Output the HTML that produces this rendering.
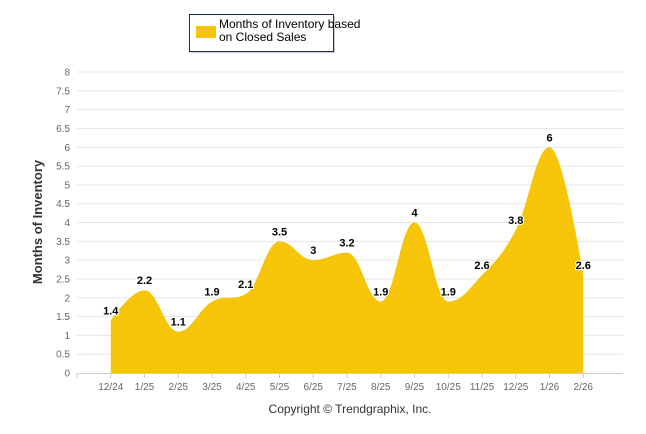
<!DOCTYPE html>
<html><head><meta charset="utf-8"><style>
body{margin:0;background:#fff;font-family:"Liberation Sans",sans-serif;}
svg{display:block}
</style></head><body>
<svg id="c" width="646" height="434">
  <g>
    <rect x="191" y="16" width="144" height="37" fill="#999" opacity="0.5"/>
    <rect x="189.5" y="14.5" width="144" height="37" fill="#fff" stroke="#1f2d4d" stroke-width="1"/>
    <rect x="196" y="26" width="20" height="12" fill="#f7c508"/>
    <text x="219" y="28" font-size="12" fill="#000">Months of Inventory based</text>
    <text x="219" y="41" font-size="12" fill="#000">on Closed Sales</text>
  </g>
  <g id="grid"></g>
  <g id="area"></g>
  <g id="labels"></g>
  <text transform="translate(42,222) rotate(-90)" text-anchor="middle" font-size="13" font-weight="bold" fill="#333">Months of Inventory</text>
  <text x="350" y="413" text-anchor="middle" font-size="12" fill="#333">Copyright © Trendgraphix, Inc.</text>
</svg>
<script>
const categories=["12/24","1/25","2/25","3/25","4/25","5/25","6/25","7/25","8/25","9/25","10/25","11/25","12/25","1/26","2/26"];
const values=[1.4,2.2,1.1,1.9,2.1,3.5,3,3.2,1.9,4,1.9,2.6,3.8,6,2.6];
const yTicks=[0,0.5,1,1.5,2,2.5,3,3.5,4,4.5,5,5.5,6,6.5,7,7.5,8];
const NS="http://www.w3.org/2000/svg";
const x0=77,x1=617,y0=373,y1=72;
const xs=i=>x0+(i+1)*(x1-x0)/16;
const ys=v=>y0-(v/8)*(y0-y1);
function mk(t,a,p){const e=document.createElementNS(NS,t);for(const k in a)e.setAttribute(k,a[k]);p.appendChild(e);return e;}
const grid=document.getElementById('grid');
yTicks.forEach(t=>{
  const y=ys(t);
  if(t>0){const l=mk('line',{x1:x0,x2:623,y1:y,y2:y,stroke:'#e6e6e6','stroke-width':1},grid);
  
  }
  const tx=mk('text',{x:70,y:y+3.5,'text-anchor':'end','font-size':10,fill:'#666'},grid);
  tx.textContent=t;
  
  
});
mk('line',{x1:x0,x2:623,y1:y0+0.5,y2:y0+0.5,stroke:'#ccc'},grid);
for(let i=-1;i<categories.length;i++){
  mk('line',{x1:xs(i),x2:xs(i),y1:y0,y2:y0+5,stroke:'#ccc'},grid);
}
categories.forEach((c,i)=>{
  const tx=mk('text',{x:xs(i),y:390,'text-anchor':'middle','font-size':10,fill:'#666'},grid);
  tx.textContent=c;
  
  
});
// Highcharts-like spline
const P=values.map((v,i)=>[xs(i),ys(v)]);
function cont(i){
  const [x,y]=P[i];
  if(i===0||i===P.length-1)return{l:[x,y],r:[x,y]};
  const [lx,ly]=P[i-1],[nx,ny]=P[i+1];const s=1.5,d=2.5;
  let lcx=(s*x+lx)/d,lcy=(s*y+ly)/d,rcx=(s*x+nx)/d,rcy=(s*y+ny)/d;
  if(rcx!==lcx){const c=((rcy-lcy)*(rcx-x))/(rcx-lcx)+y-rcy;lcy+=c;rcy+=c;}
  if(lcy>Math.max(ly,y)){lcy=Math.max(ly,y);rcy=2*y-lcy;}else if(lcy<Math.min(ly,y)){lcy=Math.min(ly,y);rcy=2*y-lcy;}
  if(rcy>Math.max(ny,y)){rcy=Math.max(ny,y);lcy=2*y-rcy;}else if(rcy<Math.min(ny,y)){rcy=Math.min(ny,y);lcy=2*y-rcy;}
  return{l:[lcx,lcy],r:[rcx,rcy]};
}
const C=P.map((p,i)=>cont(i));
let d=`M${P[0][0]},${y0} L${P[0][0]},${P[0][1]}`;
for(let i=1;i<P.length;i++){d+=` C${C[i-1].r[0]},${C[i-1].r[1]} ${C[i].l[0]},${C[i].l[1]} ${P[i][0]},${P[i][1]}`;}
d+=` L${P[P.length-1][0]},${y0} Z`;
const ar=mk('path',{d:d,fill:'#f7c508',stroke:'none'},document.getElementById('area'));


const lab=document.getElementById('labels');
values.forEach((v,i)=>{
  const a={x:xs(i),y:ys(v)-6,'text-anchor':'middle','font-size':11,'font-weight':'bold',fill:'#000',stroke:'#fff','stroke-width':2,'paint-order':'stroke'};
  const t=mk('text',a,lab);t.textContent=v;
  
  
});
</script>
</body></html>
